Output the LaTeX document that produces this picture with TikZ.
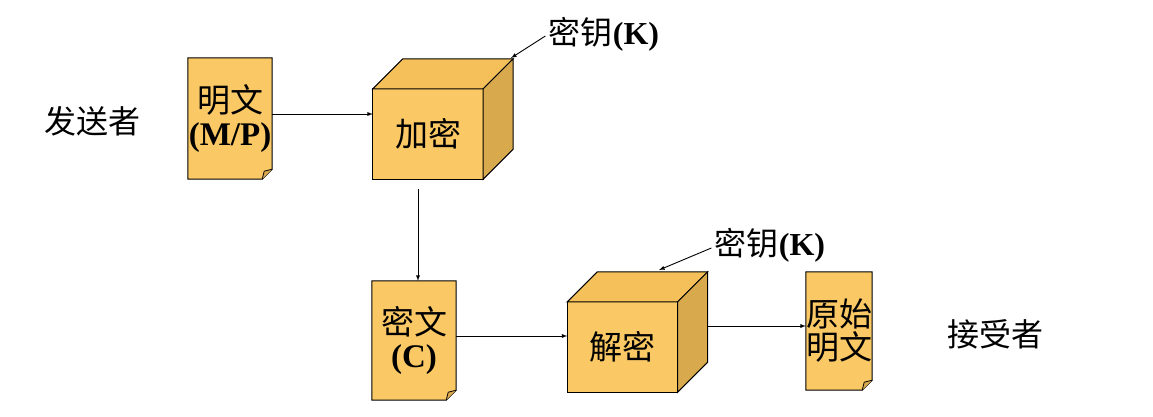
\documentclass[tikz,border=0pt]{standalone}
\usepackage{fontspec}
\setmainfont{Liberation Serif}
\newfontfamily\cjk{Noto Sans CJK SC}
\usetikzlibrary{backgrounds}
\definecolor{boxfill}{HTML}{FAC864}
\definecolor{boxside}{HTML}{D9A94E}
\definecolor{boxtop}{HTML}{F5C05A}
\begin{document}
\begin{tikzpicture}[x=1pt,y=-1pt,
  doc/.style={draw=none,inner sep=0pt,align=center,font=\fontsize{33}{37}\selectfont},
  face/.style={draw=none,inner sep=0pt,minimum width=110pt,minimum height=90pt,font=\cjk\fontsize{33}{37}\selectfont},
  lbl/.style={font=\cjk\fontsize{32}{36}\selectfont},
  arr/.style={-latex,line width=0.9pt}]
\useasboundingbox (0,0) rectangle (1153,417);
% documents
\node[doc,minimum width=84pt,minimum height=121pt] (d1) at (230,118.5) {{\cjk 明文}\\[-4pt]\textbf{(M/P)}};
\node[doc,minimum width=84pt,minimum height=119pt] (d2) at (414,340.5) {{\cjk 密文}\\[-4pt]\textbf{(C)}};
\node[doc,minimum width=66pt,minimum height=118pt] (d3) at (839,331) {{\cjk 原始}\\[-4pt]{\cjk 明文}};
% cubes
\node[face] (c1) at (428,134) {加密};
\node[face] (c2) at (622.5,347) {解密};
\begin{scope}[on background layer]
\foreach \d in {d1,d2,d3}{
  \draw[fill=boxfill,line width=1pt] (\d.north west) -- (\d.north east) -- ([yshift=10pt]\d.south east) -- ([xshift=-10pt]\d.south east) -- (\d.south west) -- cycle;
  \draw[line width=0.8pt,fill=boxside] ([yshift=10pt]\d.south east) -- ([xshift=-8pt,yshift=8pt]\d.south east) -- ([xshift=-10pt]\d.south east);
}
\foreach \c in {c1,c2}{
  \draw[fill=boxfill,line width=1pt] (\c.north west) rectangle (\c.south east);
  \draw[fill=boxtop,line width=1pt] (\c.north west) -- ([shift={(30,-30)}]\c.north west) -- ([shift={(30,-30)}]\c.north east) -- (\c.north east) -- cycle;
  \draw[fill=boxside,line width=1pt] (\c.north east) -- ([shift={(30,-30)}]\c.north east) -- ([shift={(30,-30)}]\c.south east) -- (\c.south east) -- cycle;
}
\end{scope}
% labels
\node[lbl] (k1) at (604,34) {密钥\textbf{\rmfamily(K)}};
\node[lbl] (k2) at (770,245) {密钥\textbf{\rmfamily(K)}};
\node[lbl] (snd) at (92,121) {发送者};
\node[lbl] (rcv) at (995,334) {接受者};
\coordinate (t1) at (511,58);
\coordinate (t2) at (659,270);
% connectors
\draw[arr] (d1.east |- 0,114) -- (c1.west |- 0,114);
\draw[arr] (k1.west) ++(0,2) -- (t1);
\draw[arr] (c1.south) ++(-10,10) -- (d2.north -| 418,0);
\draw[arr] (d2.east |- 0,336) -- (c2.west |- 0,336);
\draw[arr] (k2.west) ++(0,3) -- (t2);
\draw[arr] ([shift={(30,-21)}]c2.east) -- (d3.west |- 0,326);
\end{tikzpicture}
\end{document}
